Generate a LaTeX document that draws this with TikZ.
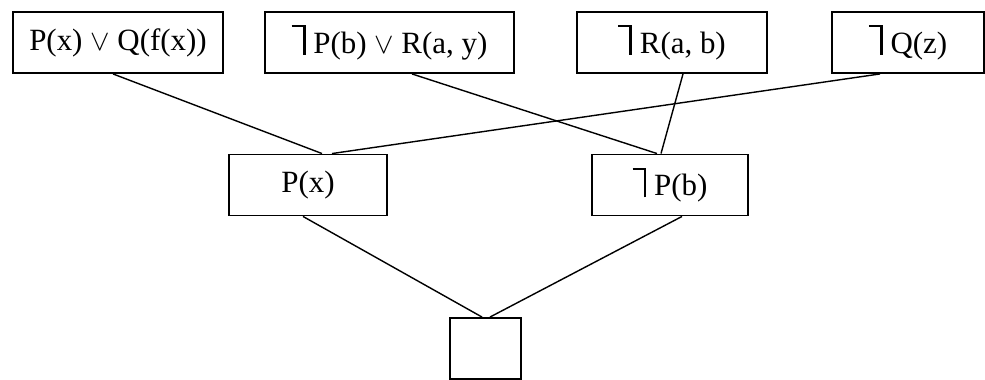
\documentclass[tikz,border=0pt]{standalone}
\usepackage{fontspec}
\setmainfont{Liberation Serif}
\newcommand{\nonop}{\rlap{\rule[0.84em]{0.45em}{0.06em}}\hspace{0.36em}\rule[-0.06em]{0.09em}{0.96em}\hspace{0.25em}}
\tikzset{
  clause/.style={draw, line width=1.2pt, minimum height=1.53cm, inner sep=0pt,
    font=\fontsize{22}{26}\selectfont},
  link/.style={line width=1pt}
}
\begin{document}
\begin{tikzpicture}

        % 0. Area del disegno
        \useasboundingbox[fill=white] (0,0) rectangle (24.625,9.5);

        % 1. Clausole di partenza (riga in alto)
        \node[clause, minimum width=5.25cm]  (c1) at (2.95,8.4375)   {P(x) $\vee$ Q(f(x))};
        \node[clause, minimum width=6.225cm] (c2) at (9.7375,8.4375) {\nonop P(b) $\vee$ R(a, y)};
        \node[clause, minimum width=4.75cm]  (c3) at (16.8,8.4375)   {\nonop R(a, b)};
        \node[clause, minimum width=3.8cm]   (c4) at (22.7,8.4375)   {\nonop Q(z)};

        % 2. Risolventi intermedi
        \node[clause, minimum width=3.95cm] (pa) at (7.7,4.875)   {P(x)};
        \node[clause, minimum width=3.9cm]  (pb) at (16.75,4.875) {\nonop P(b)};

        % 3. Clausola vuota
        \node[clause, minimum width=1.775cm] (nil) at (12.1375,0.7875) {};

        % 4. Collegamenti verso P(x)
        \draw[link] ([xshift=-0.125cm]c1.south) -- ([xshift=0.35cm]pa.north);
        \draw[link] ([xshift=-0.7cm]c4.south) -- ([xshift=0.6cm]pa.north);

        % 5. Collegamenti verso il secondo risolvente
        \draw[link] ([xshift=0.5625cm]c2.south) -- ([xshift=-0.325cm]pb.north);
        \draw[link] ([xshift=0.275cm]c3.south) -- ([xshift=-0.225cm]pb.north);

        % 6. Collegamenti verso la clausola vuota
        \draw[link] ([xshift=-0.125cm]pa.south) -- ([xshift=-0.0875cm]nil.north);
        \draw[link] ([xshift=0.3cm]pb.south) -- ([xshift=0.1125cm]nil.north);
    \end{tikzpicture}
\end{document}
